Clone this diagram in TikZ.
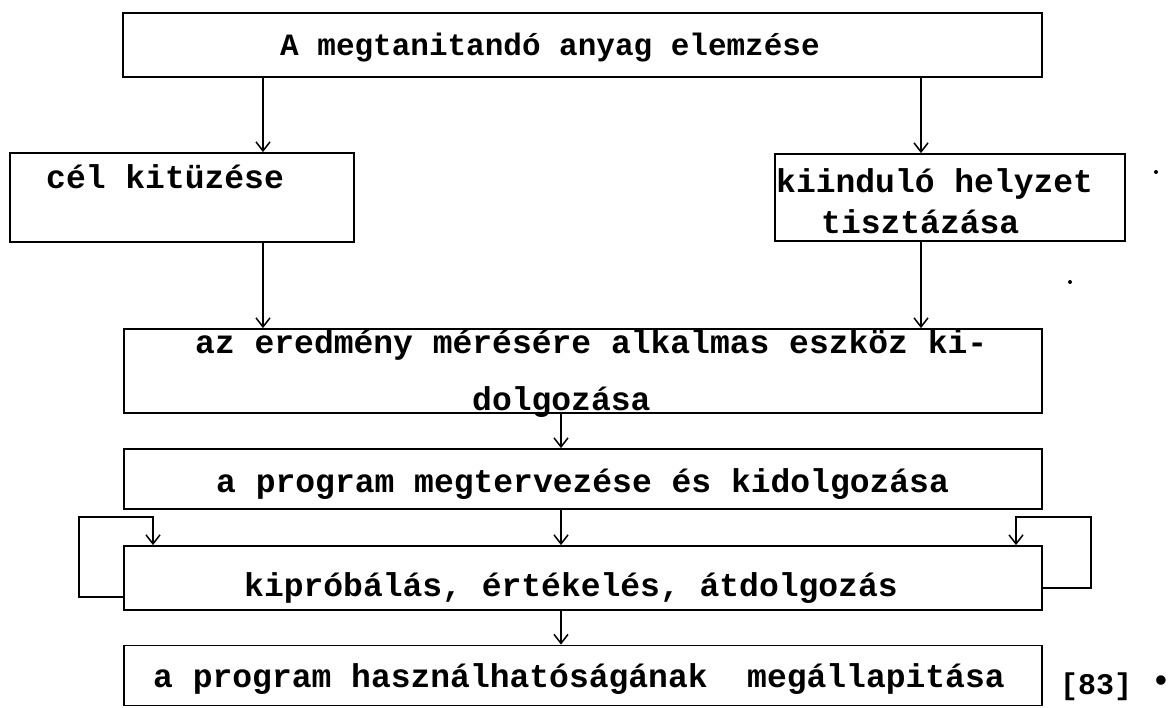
\documentclass[tikz,border=0pt]{standalone}
\usepackage{fontspec}
\newfontfamily\tw{Liberation Mono}
\usetikzlibrary{arrows.meta}
\begin{document}
\begin{tikzpicture}[x=1pt,y=-1pt,
  box/.style={draw,line width=1.8pt,inner sep=0pt},
  lbl/.style={anchor=base west,inner sep=0pt,font=\tw\bfseries\fontsize{33}{40}\selectfont},
  arr/.style={line width=1.5pt,-{Straight Barb[length=9pt,width=14pt,line width=1.5pt]}},
  lnk/.style={line width=1.5pt}]
\useasboundingbox (0,0) rectangle (1172,708);
% boxes
\node[box,minimum width=919pt,minimum height=64pt] (top) at (582.5,45) {};
\node[box,minimum width=344pt,minimum height=89pt] (cel) at (182,197.5) {};
\node[box,minimum width=350pt,minimum height=87pt] (kii) at (950,197.5) {};
\node[box,minimum width=918pt,minimum height=84pt] (mer) at (583,371) {};
\node[box,minimum width=918pt,minimum height=60pt] (prog) at (583,479) {};
\node[box,minimum width=918pt,minimum height=64pt] (kip) at (583,578) {};
\node[box,minimum width=918pt,minimum height=60pt] (hasz) at (583,675.5) {};
% texts
\node[lbl,font=\tw\bfseries\fontsize{31}{38}\selectfont] (ttop) at (280,56) {A megtanitandó anyag elemzése};
\node[lbl] (tcel) at (46,189) {cél kitüzése};
\node[lbl] (tkii1) at (776,193) {kiinduló helyzet};
\node[lbl] (tkii2) at (821,234) {tisztázása};
\node[lbl] (tmer1) at (195,353) {az eredmény mérésére alkalmas eszköz ki-};
\node[lbl] (tmer2) at (472,410) {dolgozása};
\node[lbl] (tprog) at (216,492) {a program megtervezése és kidolgozása};
\node[lbl] (tkip) at (244,596) {kipróbálás, értékelés, átdolgozás};
\node[lbl] (thasz) at (153,687) {a program használhatóságának\ \ megállapitása};
\node[lbl,font=\tw\bfseries\fontsize{30}{36}\selectfont] (tref) at (1060,694) {[83]};
\node[lbl,anchor=center] (tdot) at (1161,684) {•};
% stray dots
\fill (1156,172) circle (2pt);
\fill (1070,282) circle (2pt);
% x positions
\coordinate (xl) at (263,0);
\coordinate (xr) at (921,0);
\coordinate (xm) at (561,0);
\coordinate (xll) at (79,0);
\coordinate (xla) at (153,0);
\coordinate (xrr) at (1091,0);
\coordinate (xra) at (1016,0);
\coordinate (yl) at (0,597);
\coordinate (yr) at (0,588);
\coordinate (yt) at (0,517);
% connectors
\draw[arr] (top.south -| xl) -- (cel.north -| xl);
\draw[arr] (top.south -| xr) -- (kii.north -| xr);
\draw[arr] (cel.south -| xl) -- (mer.north -| xl);
\draw[arr] (kii.south -| xr) -- (mer.north -| xr);
\draw[arr] (mer.south -| xm) -- (prog.north -| xm);
\draw[arr] (prog.south -| xm) -- (kip.north -| xm);
\draw[arr] (kip.south -| xm) -- (hasz.north -| xm);
\draw[arr] (kip.west |- yl) -- (xll |- yl) -- (xll |- yt) -- (xla |- yt) -- (kip.north -| xla);
\draw[arr] (kip.east |- yr) -- (xrr |- yr) -- (xrr |- yt) -- (xra |- yt) -- (kip.north -| xra);
\end{tikzpicture}
\end{document}
